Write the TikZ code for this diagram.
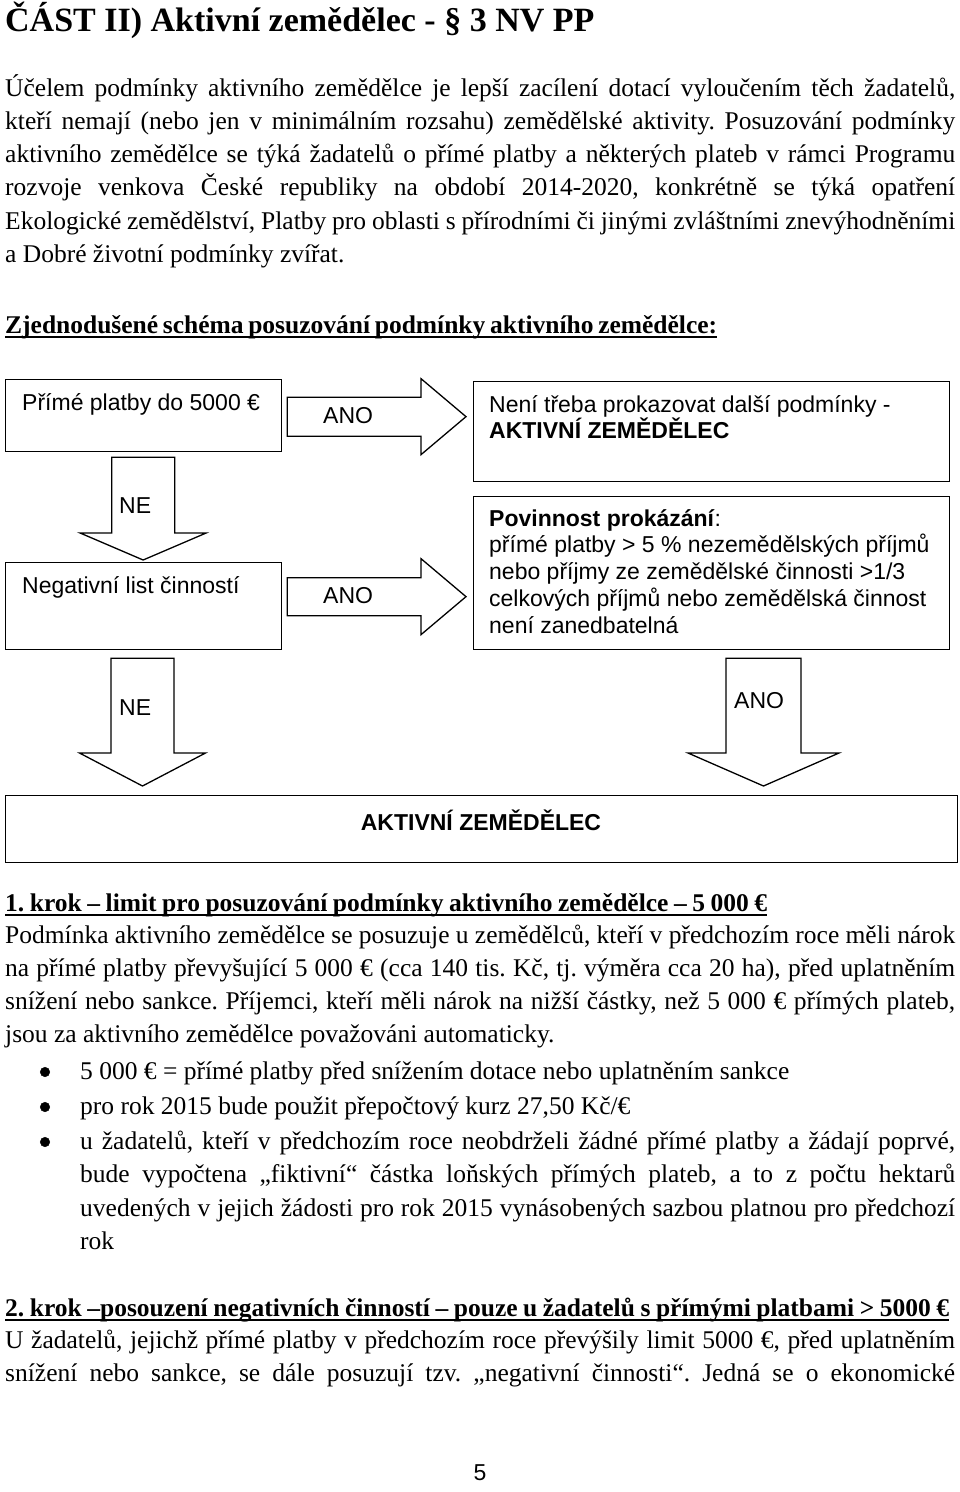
\documentclass[tikz,border=0pt]{standalone}
\usepackage{fontspec}
\setmainfont{Liberation Serif}
\newfontfamily\dsans{Liberation Sans}
\usetikzlibrary{calc}
\frenchspacing

\newcommand\jl[1]{\hbox to 950pt{#1}}
\newcommand\jb[1]{\hbox to 875pt{#1}}

% right block arrow: #1 tail coord, #2 tip coord, #3 half shaft, #4 half head, #5 head length
\newcommand\rarr[5]{%
 \draw[barrow] let \p1=(#1), \p2=(#2) in
 (\x1,\y2+#3pt) -- (\x2-#5pt,\y2+#3pt) -- (\x2-#5pt,\y2+#4pt) -- (\x2,\y2)
 -- (\x2-#5pt,\y2-#4pt) -- (\x2-#5pt,\y2-#3pt) -- (\x1,\y2-#3pt) -- cycle;}
% down block arrow
\newcommand\darr[5]{%
 \draw[barrow] let \p1=(#1), \p2=(#2) in
 (\x2-#3pt,\y1) -- (\x2-#3pt,\y2+#5pt) -- (\x2-#4pt,\y2+#5pt) -- (\x2,\y2)
 -- (\x2+#4pt,\y2+#5pt) -- (\x2+#3pt,\y2+#5pt) -- (\x2+#3pt,\y1) -- cycle;}

\begin{document}
\begin{tikzpicture}[x=1pt,y=-1pt,
  box/.style={draw=black, line width=1.3pt, rectangle, inner sep=0pt, anchor=north west},
  barrow/.style={draw=black, line width=1.3pt, fill=white, line join=miter},
  dtext/.style={font=\dsans\fontsize{23}{26.5}\selectfont, inner sep=0pt, anchor=base west},
  body/.style={font=\fontsize{25.5}{33.3}\selectfont, inner sep=0pt, anchor=base west},
  bodyb/.style={font=\bfseries\fontsize{25.5}{33.3}\selectfont, inner sep=0pt, anchor=base west},
  uline/.style={line width=1.6pt, black},
  dot/.style={circle, fill=black, draw=black, line width=0.5pt, inner sep=0pt, minimum size=9.5pt},
]
\path[fill=white,use as bounding box] (0,0) rectangle (960,1492);

% title
\node[body, font=\bfseries\fontsize{34}{40}\selectfont] (title) at (5,31) {ČÁST II) Aktivní zemědělec - § 3 NV PP};

% paragraph 1
\node[body] (p1) at (5,96) {\begin{minipage}[t]{950pt}%
\jl{Účelem podmínky aktivního zemědělce je lepší zacílení dotací vyloučením těch žadatelů,}
\jl{kteří nemají (nebo jen v minimálním rozsahu) zemědělské aktivity. Posuzování podmínky}
\jl{aktivního zemědělce se týká žadatelů o přímé platby a některých plateb v rámci Programu}
\jl{rozvoje venkova České republiky na období 2014-2020, konkrétně se týká opatření}
\jl{Ekologické zemědělství, Platby pro oblasti s přírodními či jinými zvláštními znevýhodněními}
\hbox{a Dobré životní podmínky zvířat.}
\end{minipage}};

% schema heading
\node[bodyb] (sh) at (5,333) {\hbox to 712pt{Zjednodušené schéma posuzování podmínky aktivního zemědělce:}};
\draw[uline] ([yshift=-4pt]sh.base west) -- ([yshift=-4pt]sh.base east);

% boxes
\node[box, minimum width=276pt, minimum height=72pt] (b1) at (5,379) {};
\node[box, minimum width=476pt, minimum height=100pt] (b2) at (473,381) {};
\node[box, minimum width=276pt, minimum height=87pt] (b3) at (5,562) {};
\node[box, minimum width=476pt, minimum height=153pt] (b4) at (473,496) {};
\node[box, minimum width=952pt, minimum height=67pt] (b5) at (5,795) {};

% box texts
\node[dtext] (t1) at (22,410) {Přímé platby do 5000 €};
\node[dtext] (t2a) at (489,412) {Není třeba prokazovat další podmínky -};
\node[dtext] (t2b) at (489,438) {\bfseries AKTIVNÍ ZEMĚDĚLEC};
\node[dtext] (t3) at (22,593) {Negativní list činností};
\node[dtext] (t4a) at (489,526) {\textbf{Povinnost prokázání}:};
\node[dtext] (t4b) at (489,552.75) {přímé platby > 5 \% nezemědělských příjmů};
\node[dtext] (t4c) at (489,579.5) {nebo příjmy ze zemědělské činnosti >1/3};
\node[dtext] (t4d) at (489,606.25) {celkových příjmů nebo zemědělská činnost};
\node[dtext] (t4e) at (489,633) {není zanedbatelná};
\node[dtext, anchor=base] (t5) at (481,830) {\bfseries AKTIVNÍ ZEMĚDĚLEC};

% arrow end points
\coordinate (a1s) at ($(b1.east)+(5,1)$);
\coordinate (a1t) at ($(b2.west)+(-7,-15)$);
\coordinate (a2s) at ($(b3.east)+(5,-9.5)$);
\coordinate (a2t) at ($(b4.west)+(-7,23.5)$);
\coordinate (n1s) at ($(b1.south)+(-0.5,5)$);
\coordinate (n1t) at ($(b3.north)+(-0.5,-2)$);
\coordinate (n2s) at ($(b3.south)+(-0.5,8)$);
\coordinate (n2t) at ($(b5.north west)+(137.5,-9)$);
\coordinate (y3s) at ($(b4.south)+(52.5,8)$);
\coordinate (y3t) at ($(b5.north west)+(758.5,-9)$);

\rarr{a1s}{a1t}{19.5}{38}{45}
\rarr{a2s}{a2t}{19}{38}{45}
\darr{n1s}{n1t}{31.5}{63}{27}
\darr{n2s}{n2t}{31.5}{63}{33}
\darr{y3s}{y3t}{37.5}{75.5}{33}

% arrow labels
\node[dtext] (l1) at (323,423) {ANO};
\node[dtext] (l2) at (323,603) {ANO};
\node[dtext] (l3) at (119,513) {NE};
\node[dtext] (l4) at (119,715) {NE};
\node[dtext] (l5) at (734,708) {ANO};

% step 1
\node[bodyb] (h1) at (5,911) {\hbox to 762pt{1. krok – limit pro posuzování podmínky aktivního zemědělce – 5 000 €}};
\draw[uline] ([yshift=-4pt]h1.base west) -- ([yshift=-4pt]h1.base east);
\node[body] (p2) at (5,943) {\begin{minipage}[t]{950pt}%
\jl{Podmínka aktivního zemědělce se posuzuje u zemědělců, kteří v předchozím roce měli nárok}
\jl{na přímé platby převyšující 5 000 € (cca 140 tis. Kč, tj. výměra cca 20 ha), před uplatněním}
\jl{snížení nebo sankce. Příjemci, kteří měli nárok na nižší částky, než 5 000 € přímých plateb,}
\hbox{jsou za aktivního zemědělce považováni automaticky.}
\end{minipage}};

% bullets
\node[dot] (d1) at (45,1072) {};
\node[dot] (d2) at (45,1107) {};
\node[dot] (d3) at (45,1142) {};
\node[body] (bt1) at (80,1079) {5 000 € = přímé platby před snížením dotace nebo uplatněním sankce};
\node[body] (bt2) at (80,1114) {pro rok 2015 bude použit přepočtový kurz 27,50 Kč/€};
\node[body, font=\fontsize{25.5}{33.5}\selectfont] (bt3) at (80,1149) {\begin{minipage}[t]{875pt}%
\jb{u žadatelů, kteří v předchozím roce neobdrželi žádné přímé platby a žádají poprvé,}
\jb{bude vypočtena „fiktivní“ částka loňských přímých plateb, a to z počtu hektarů}
\jb{uvedených v jejich žádosti pro rok 2015 vynásobených sazbou platnou pro předchozí}
\hbox{rok}
\end{minipage}};

% step 2
\node[bodyb] (h2) at (5,1316) {\hbox to 944pt{2. krok –posouzení negativních činností – pouze u žadatelů s přímými platbami > 5000 €}};
\draw[uline] ([yshift=-4pt]h2.base west) -- ([yshift=-4pt]h2.base east);
\node[body] (p3) at (5,1348) {\begin{minipage}[t]{950pt}%
\jl{U žadatelů, jejichž přímé platby v předchozím roce převýšily limit 5000 €, před uplatněním}
\jl{snížení nebo sankce, se dále posuzují tzv. „negativní činnosti“. Jedná se o ekonomické}
\end{minipage}};

% page number
\node[dtext, anchor=base] (pg) at (480,1480) {5};
\end{tikzpicture}
\end{document}
